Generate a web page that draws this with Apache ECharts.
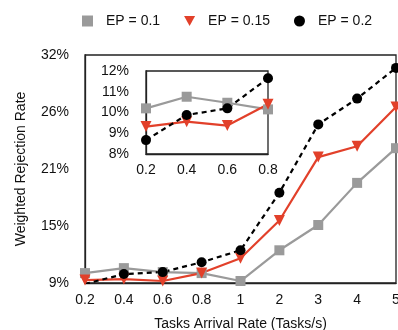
<!DOCTYPE html>
<html><head><meta charset="utf-8">
<script src="https://cdn.jsdelivr.net/npm/echarts@6/dist/echarts.min.js"></script>
<style>html,body{margin:0;padding:0;background:#fff}#c{width:398px;height:330px}</style>
</head><body><div id="c"></div>
<script>
var categories = ['0.2','0.4','0.6','0.8','1','2','3','4','5'];
var ep01 = [10.0, 10.5, 10.1, 10.0, 9.2, 12.3, 14.85, 19.1, 22.6];
var ep015 = [9.3, 9.4, 9.2, 10.0, 11.5, 15.3, 21.7, 22.8, 26.75];
var ep02 = [8.9, 9.9, 10.1, 11.1, 12.3, 18.1, 25.0, 27.6, 30.7];
var yTickValues = [9, 14.75, 20.5, 26.25, 32];
var yTickLabels = ['9%', '15%', '21%', '26%', '32%'];

var insetCategories = ['0.2','0.4','0.6','0.8'];
var insetEp01 = [10.2, 10.76, 10.47, 10.15];
var insetEp015 = [9.32, 9.56, 9.37, 10.4];
var insetEp02 = [8.67, 9.88, 10.2, 11.65];

var FONT = 'Liberation Sans';
var GRAY = '#9a9a9a', RED = '#e2402a', BLACK = '#000';
var TRI = 'path://M0,0 L10,0 L5,9 Z';

function mk(name, data, color, sym, size, dashed, ax) {
  return {
    name: name, type: 'line', data: data, xAxisIndex: ax, yAxisIndex: ax,
    symbol: sym, symbolSize: size, showSymbol: true,
    lineStyle: {color: color, width: 2.2, type: dashed ? [5, 4] : 'solid'},
    itemStyle: {color: color}, z: 3 + ax * 10
  };
}

var chart = echarts.init(document.getElementById('c'));
chart.setOption({
  animation: false,
  textStyle: {fontFamily: FONT},
  legend: {
    top: 9, left: 77, itemGap: 24, itemWidth: 11, itemHeight: 11,
    textStyle: {fontSize: 14, color: '#111', fontFamily: FONT, padding: [0, 0, 0, 8]},
    data: [
      {name: 'EP = 0.1', icon: 'rect', itemStyle: {color: GRAY}},
      {name: 'EP = 0.15', icon: TRI, itemStyle: {color: RED}},
      {name: 'EP = 0.2', icon: 'circle', itemStyle: {color: BLACK}}
    ]
  },
  grid: [
    {left: 85, right: 2, top: 55, bottom: 47, outerBoundsMode: 'none', containLabel: false,
     show: true, borderColor: '#222', borderWidth: 1.3, backgroundColor: '#fff'},
    {left: 146, top: 71, width: 122, height: 83, outerBoundsMode: 'none', containLabel: false,
     show: true, borderColor: '#222', borderWidth: 1.3, backgroundColor: '#fff', z: 10}
  ],
  xAxis: [
    {type: 'category', gridIndex: 0, data: categories, boundaryGap: false,
     axisLine: {lineStyle: {color: '#222', width: 1.3}}, axisTick: {show: false},
     axisLabel: {fontSize: 14, color: '#111', margin: 10, fontFamily: FONT},
     name: 'Tasks Arrival Rate (Tasks/s)', nameLocation: 'middle', nameGap: 34,
     nameTextStyle: {fontSize: 14, color: '#111', fontFamily: FONT}},
    {type: 'category', gridIndex: 1, data: insetCategories, boundaryGap: false,
     axisLine: {lineStyle: {color: '#222', width: 1.3}}, axisTick: {show: false},
     axisLabel: {fontSize: 14, color: '#111', margin: 9, fontFamily: FONT}, z: 10}
  ],
  yAxis: [
    {type: 'value', gridIndex: 0, min: 9, max: 32,
     axisLine: {show: true, lineStyle: {color: '#222', width: 1.3}},
     axisTick: {show: false}, splitLine: {show: false},
     axisLabel: {fontSize: 14, color: '#111', margin: 16, fontFamily: FONT,
       customValues: yTickValues,
       formatter: function (v) { var i = yTickValues.indexOf(v); return i >= 0 ? yTickLabels[i] : ''; }},
     name: 'Weighted Rejection Rate', nameLocation: 'middle', nameGap: 57,
     nameTextStyle: {fontSize: 14, color: '#111', fontFamily: FONT}},
    {type: 'value', gridIndex: 1, min: 8, max: 12, interval: 1,
     axisLine: {show: true, lineStyle: {color: '#222', width: 1.3}},
     axisTick: {show: false}, splitLine: {show: false},
     axisLabel: {fontSize: 14, color: '#111', margin: 17, fontFamily: FONT, formatter: '{value}%'}, z: 10}
  ],
  series: [
    mk('EP = 0.1', ep01, GRAY, 'rect', 10, false, 0),
    mk('EP = 0.15', ep015, RED, TRI, 11, false, 0),
    mk('EP = 0.2', ep02, BLACK, 'circle', 10, true, 0),
    mk('EP = 0.1', insetEp01, GRAY, 'rect', 10, false, 1),
    mk('EP = 0.15', insetEp015, RED, TRI, 11, false, 1),
    mk('EP = 0.2', insetEp02, BLACK, 'circle', 10, true, 1)
  ]
});
</script></body></html>
